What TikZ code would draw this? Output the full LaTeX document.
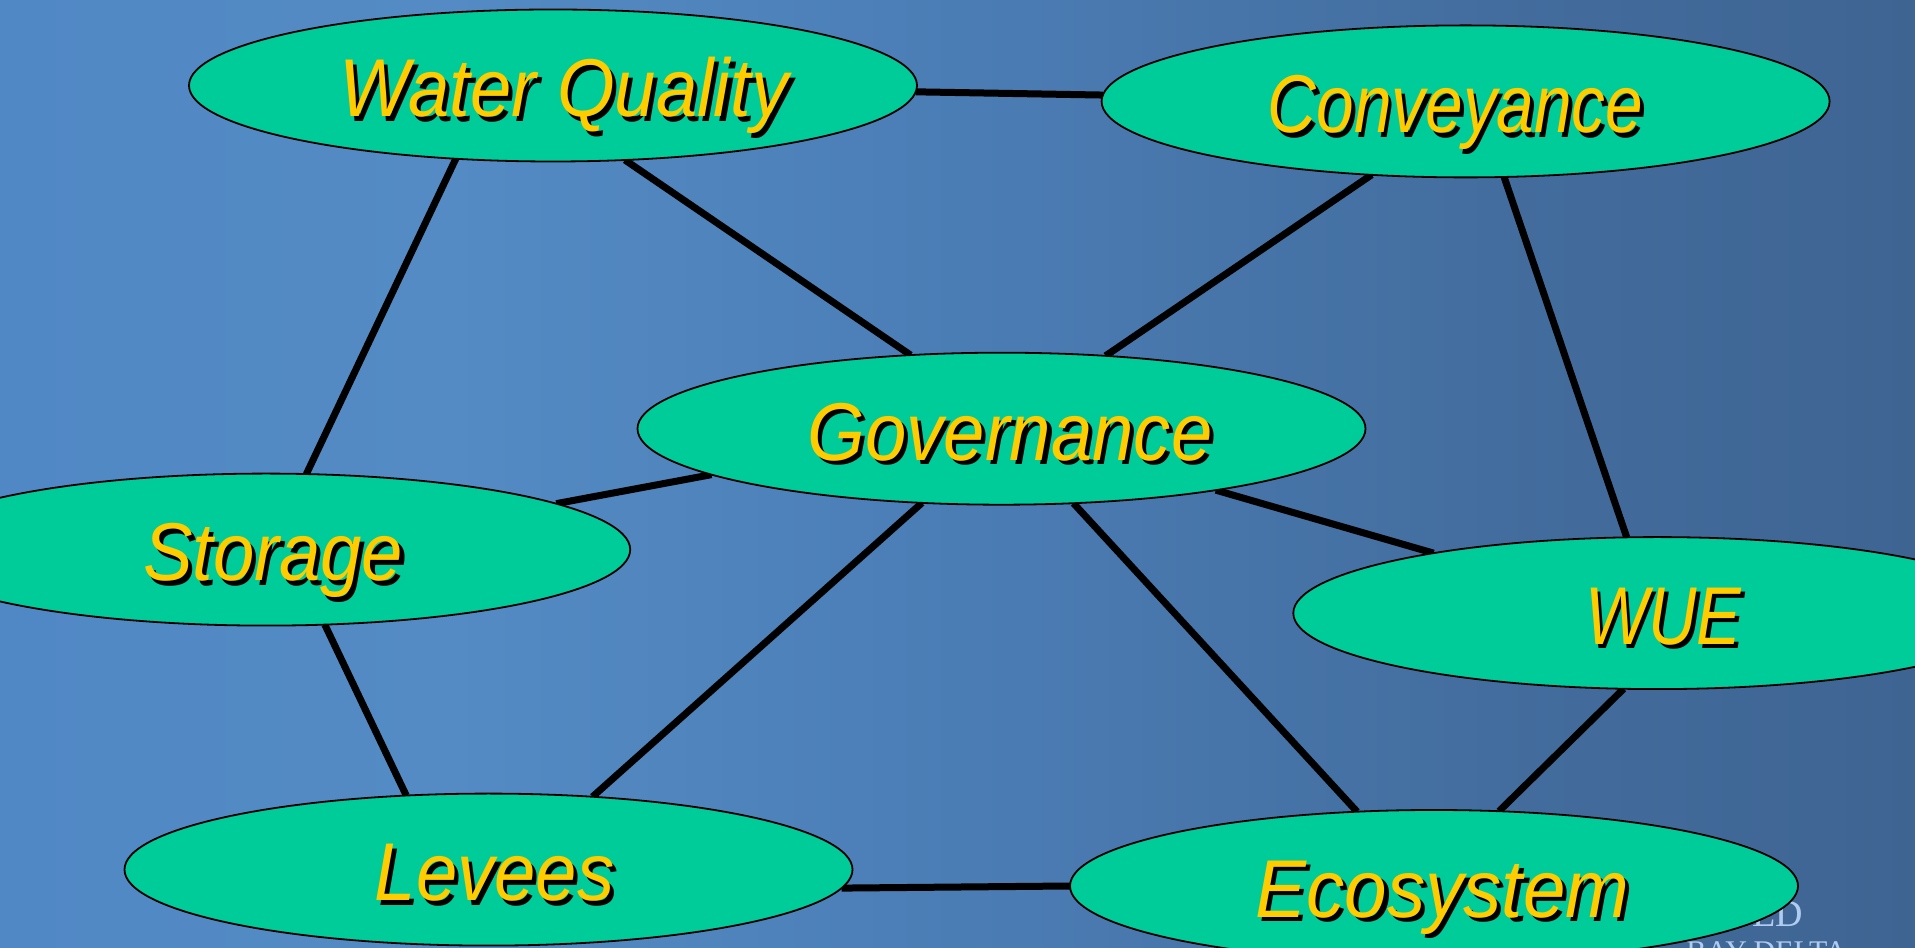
\documentclass[tikz,border=0pt]{standalone}
\usepackage{fontspec}
\setmainfont{Liberation Sans}
\newfontfamily\logofont{Liberation Serif}
\usetikzlibrary{shapes.geometric}
\definecolor{nodefill}{RGB}{0,204,153}
\definecolor{lblyellow}{RGB}{255,204,0}
\definecolor{logoblue}{RGB}{176,205,240}
\definecolor{bgA}{RGB}{80,136,197}
\definecolor{bgB}{RGB}{84,139,196}
\definecolor{bgC}{RGB}{75,125,181}
\definecolor{bgD}{RGB}{67,109,158}
\definecolor{bgE}{RGB}{62,100,146}
\pgfdeclarehorizontalshading{bgshade}{100bp}{color(0bp)=(bgA); color(25bp)=(bgA); color(36.75bp)=(bgB); color(50bp)=(bgC); color(64bp)=(bgD); color(75bp)=(bgE); color(100bp)=(bgE)}
\pgfdeclarelayer{bg}
\pgfdeclarelayer{edges}
\pgfsetlayers{bg,edges,main}
\newcommand{\lbl}[2][0.906]{\fontsize{82}{96}\selectfont\itshape\raisebox{-0.358em}[0pt][0pt]{\scalebox{#1}[1]{\rlap{\raisebox{-4.5pt}{\hspace{4.5pt}\color{black}#2}}\textcolor{lblyellow}{#2}}}}
\tikzset{
  topic/.style={ellipse, draw=black, line width=1.8pt, fill=nodefill, minimum width=728pt, minimum height=152pt, inner sep=0pt, outer sep=0pt},
  lbltext/.style={inner sep=0pt, outer sep=0pt, anchor=center},
  edge/.style={draw=black, line width=7pt},
  logotext/.style={text=logoblue, inner sep=0pt, anchor=base east},
}
\begin{document}
\begin{tikzpicture}[x=1pt,y=1pt]
\useasboundingbox (0,0) rectangle (1915,948);
\clip (0,0) rectangle (1915,948);
\begin{pgfonlayer}{bg}
\fill[shading=bgshade] (0,0) rectangle (1915,948);
\node[logotext, font=\logofont\fontsize{38}{40}\selectfont] (logoa) at (1803,21) {CALFED};
\node[logotext, font=\logofont\fontsize{30}{32}\selectfont] (logob) at (1847,-13) {BAY-DELTA};
\end{pgfonlayer}
\node[topic] (wq) at (553,862.5) {};
\node[topic] (cv) at (1465.6,846.6) {};
\node[topic] (gov) at (1001.5,519.3) {};
\node[topic] (st) at (266.2,398.4) {};
\node[topic] (wue) at (1657.3,334.9) {};
\node[topic] (lev) at (488.5,78.4) {};
\node[topic] (eco) at (1434,62) {};
\node[lbltext] (wqt) at ([shift={(11pt,-2pt)}]wq.center) {\lbl{Water Quality}};
\node[lbltext] (cvt) at ([shift={(-10pt,-2pt)}]cv.center) {\lbl[0.824]{Conveyance}};
\node[lbltext] (govt) at ([shift={(8.5pt,-2pt)}]gov.center) {\lbl{Governance}};
\node[lbltext] (stt) at ([shift={(7pt,-2pt)}]st.center) {\lbl{Storage}};
\node[lbltext] (wuet) at ([shift={(6pt,-2pt)}]wue.center) {\lbl[0.816]{WUE}};
\node[lbltext] (levt) at ([shift={(6pt,-2pt)}]lev.center) {\lbl{Levees}};
\node[lbltext] (ecot) at ([shift={(8.5pt,-2pt)}]eco.center) {\lbl[0.932]{Ecosystem}};
\begin{pgfonlayer}{edges}
\draw[edge] (wq.-1.35) -- (cv.179.8);
\draw[edge] (wq.-46.4) -- (gov.141.7);
\draw[edge] (wq.217.9) -- (st.62.7);
\draw[edge] (cv.218) -- (gov.35.4);
\draw[edge] (cv.-63.8) -- (wue.112.8);
\draw[edge] (gov.189.6) -- (st.9.5);
\draw[edge] (gov.-16.5) -- (wue.165.3);
\draw[edge] (gov.223.2) -- (lev.35.1);
\draw[edge] (gov.-46.4) -- (eco.136.8);
\draw[edge] (st.-52.7) -- (lev.138.9);
\draw[edge] (lev.-3.4) -- (eco.180.6);
\draw[edge] (wue.246.8) -- (eco.49.6);
\end{pgfonlayer}
\end{tikzpicture}
\end{document}
